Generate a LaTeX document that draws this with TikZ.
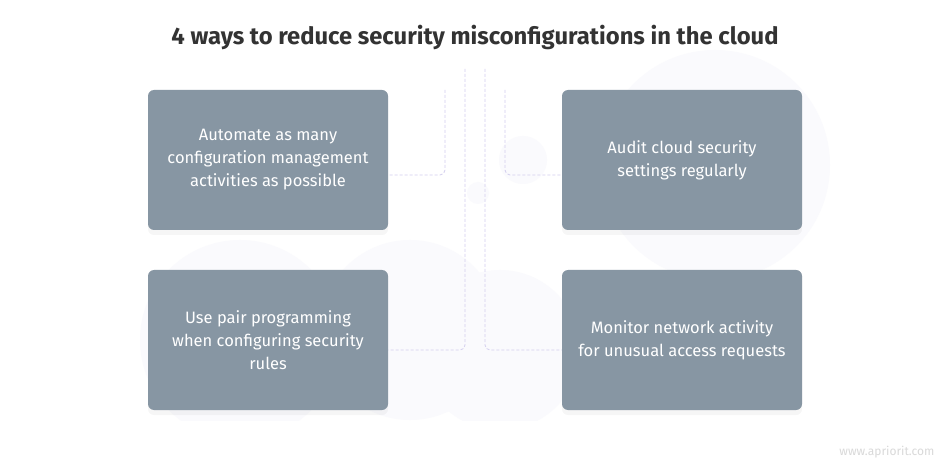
\documentclass[tikz,border=0pt]{standalone}
\usepackage{fontspec}
\setmainfont{Fira Sans}
\usepackage{xcolor}
\usetikzlibrary{positioning,shadows}
\definecolor{boxgray}{HTML}{8796A3}
\definecolor{dashlav}{HTML}{D3CEEE}
\definecolor{titlegray}{HTML}{333333}
\definecolor{faintbg}{HTML}{FAFAFD}
\tikzset{
  waybox/.style = {rectangle, rounded corners=6pt, fill=boxgray, text=white, minimum width=240pt, minimum height=140pt, align=center, font=\fontsize{16.5}{23}\selectfont, drop shadow={opacity=0.07, shadow xshift=0pt, shadow yshift=-5pt}},
  link/.style = {dashlav, dashed, dash pattern=on 3pt off 2pt, line width=0.8pt, rounded corners=5pt},
}
\begin{document}
\begin{tikzpicture}[x=1pt,y=-1pt]
  \useasboundingbox (0,0) rectangle (950,470);
  \fill[white] (0,0) rectangle (950,470);

  % faint background shapes
  \begin{scope}
    \clip (0,0) rectangle (950,420);
    \fill[faintbg] (240,340) circle (100);
    \fill[faintbg] (410,330) circle (90);
    \fill[faintbg] (500,350) circle (80);
  \end{scope}
  \fill[faintbg] (478,193) circle (11);
  \fill[faintbg] (523,160) circle (24);
  \fill[faintbg] (715,165) circle (115);

  \node[anchor=center, font=\bfseries\fontsize{23.8}{28}\selectfont, text=titlegray] (title) at (475,37)
    {4 ways to reduce security misconfigurations in the cloud};

  \node[waybox] (automate) at (268,160) {Automate as many\\configuration management\\activities as possible};
  \node[waybox] (audit) at (682,160) {Audit cloud security\\settings regularly};
  \node[waybox] (pair) at (268,340) {Use pair programming\\when configuring security\\rules};
  \node[waybox] (monitor) at (682,340) {Monitor network activity\\for unusual access requests};

  \coordinate (innerL) at (445,90);
  \coordinate (innerR) at (505,90);
  \coordinate (outerL) at (465,69);
  \coordinate (outerR) at (485,69);

  \draw[link] (innerL) |- ([yshift=-15pt]automate.east);
  \draw[link] (innerR) |- ([yshift=-15pt]audit.west);
  \draw[link] (outerL) |- ([yshift=-10pt]pair.east);
  \draw[link] (outerR) |- ([yshift=-10pt]monitor.west);

  \node[anchor=east, text=black!15, font=\fontsize{12}{14}\selectfont] (site) at (938,452) {www.apriorit.com};
\end{tikzpicture}
\end{document}
